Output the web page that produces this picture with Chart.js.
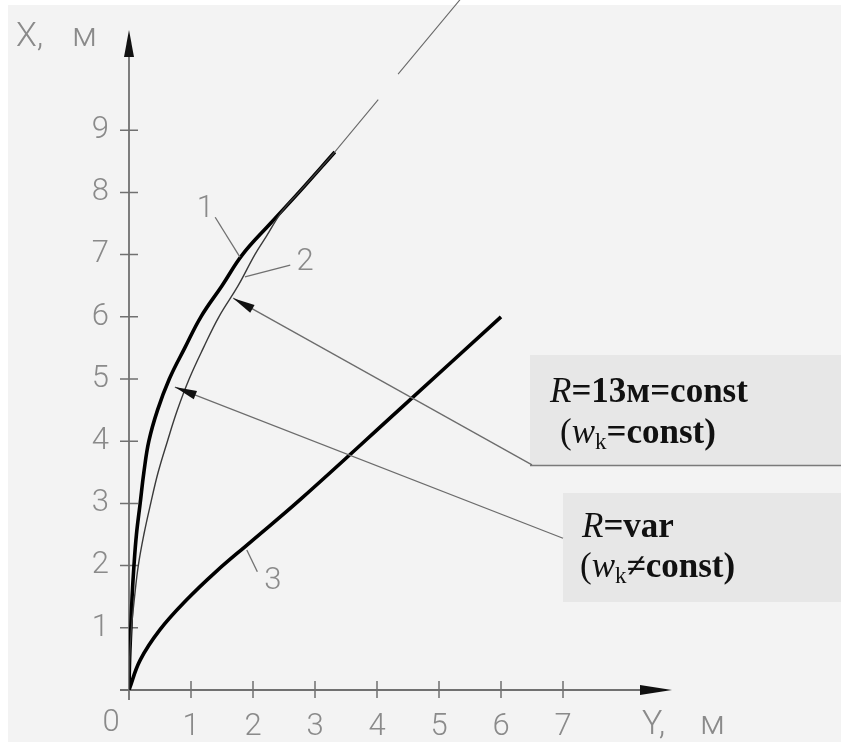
<!DOCTYPE html>
<html>
<head>
<meta charset="utf-8">
<script src="https://cdn.jsdelivr.net/npm/chart.js@4"></script>
<style>
  html, body { margin: 0; padding: 0; background: #f3f3f3; }
  #wrap { width: 841px; height: 742px; position: relative; }
</style>
</head>
<body>
<div id="wrap"><canvas id="traj"></canvas></div>
<script>
// curves as [Y, X] pairs, metres
const curve1 = [[0, 0], [0.01, 0.5], [0.03, 1], [0.05, 1.5], [0.08, 2], [0.12, 2.5], [0.18, 3], [0.24, 3.5],
  [0.32, 4], [0.46, 4.5], [0.65, 5], [0.9, 5.5], [1.16, 6], [1.5, 6.5], [1.83, 7], [2.28, 7.5], [2.74, 8], [3.32, 8.65]];
const curve2 = [[0, 0], [0.01, 0.5], [0.04, 1], [0.09, 1.5], [0.15, 2], [0.24, 2.5], [0.35, 3], [0.47, 3.5],
  [0.62, 4], [0.78, 4.5], [0.97, 5], [1.2, 5.5], [1.45, 6], [1.76, 6.5], [2.03, 7], [2.22, 7.3], [2.47, 7.7],
  [2.74, 8], [3.32, 8.65]];
// straight continuation of curve 2 (broken once)
const curve2Ext = [[3.32, 8.65], [4.02, 9.49], null, [4.34, 9.9], [5.34, 11.1]];
const curve3 = [[0, 0], [0.18, 0.48], [0.5, 0.97], [0.93, 1.45], [1.4, 1.9], [1.95, 2.37], [2.76, 3.06],
  [4.35, 4.5], [6, 6]];

const xTicks = [1, 2, 3, 4, 5, 6, 7];
const yTicks = [1, 2, 3, 4, 5, 6, 7, 8, 9];

const curveNames = ['1', '2', '3'];
const namePos = [[1.23, 7.73], [2.84, 6.88], [2.32, 1.75]];
const leaders = [[[1.39, 7.6], [1.79, 6.96]], [[2.6, 6.83], [1.87, 6.64]], [[2.07, 1.9], [1.9, 2.25]]];
// pointers from the note boxes: [from, tip]
const pointers = [[[6.5, 3.62], [1.68, 6.3]], [[7.0, 2.44], [0.74, 4.87]]];

const toPts = arr => arr.map(p => p ? { x: p[0], y: p[1] } : { x: null, y: null });

const CAD = '300 31px Roboto, "DejaVu Sans", sans-serif';
const GREY = '#8a8a8a';

function arrowHead(ctx, x0, y0, x1, y1, len, half) {
  const a = Math.atan2(y1 - y0, x1 - x0);
  ctx.beginPath();
  ctx.moveTo(x1, y1);
  ctx.lineTo(x1 - len * Math.cos(a) + half * Math.sin(a), y1 - len * Math.sin(a) - half * Math.cos(a));
  ctx.lineTo(x1 - len * Math.cos(a) - half * Math.sin(a), y1 - len * Math.sin(a) + half * Math.cos(a));
  ctx.closePath();
  ctx.fill();
}

// mixed-style text: runs of {t, f, dy}
function runs(ctx, x, y, parts) {
  ctx.textAlign = 'left';
  ctx.textBaseline = 'alphabetic';
  for (const p of parts) {
    ctx.font = p.f;
    ctx.fillText(p.t, x, y + (p.dy || 0));
    x += ctx.measureText(p.t).width;
  }
}

const drawing = {
  id: 'drawing',
  beforeDraw(chart) {
    const ctx = chart.ctx;
    ctx.save();
    ctx.fillStyle = '#f3f3f3';
    ctx.fillRect(0, 0, chart.width, chart.height);
    ctx.fillStyle = '#ffffff';
    ctx.fillRect(0, 0, chart.width, 5);
    ctx.fillRect(0, 0, 8, chart.height);

    // note boxes
    ctx.fillStyle = '#e7e7e7';
    ctx.fillRect(530, 355, 311, 110);
    ctx.fillRect(563, 493, 278, 109);
    ctx.strokeStyle = '#7a7a7a';
    ctx.lineWidth = 1.5;
    ctx.beginPath();
    ctx.moveTo(530, 465.5);
    ctx.lineTo(841, 465.5);
    ctx.stroke();

    ctx.fillStyle = '#111';
    const b = '35px "Liberation Serif", serif';
    const bb = 'bold 35px "Liberation Serif", serif';
    const bi = 'italic 35px "Liberation Serif", serif';
    const sub = '23px "Liberation Serif", serif';
    runs(ctx, 550, 402, [{ t: 'R', f: bi }, { t: '=13м=const', f: bb }]);
    runs(ctx, 560, 443, [{ t: '(', f: b }, { t: 'w', f: bi }, { t: 'k', f: sub, dy: 6 }, { t: '=const)', f: bb }]);
    runs(ctx, 582, 537, [{ t: 'R', f: bi }, { t: '=var', f: bb }]);
    runs(ctx, 580, 577, [{ t: '(', f: b }, { t: 'w', f: bi }, { t: 'k', f: sub, dy: 6 }, { t: '≠const)', f: bb }]);

    // axes
    const xs = chart.scales.x, ys = chart.scales.y;
    const ox = xs.getPixelForValue(0), oy = ys.getPixelForValue(0);
    ctx.strokeStyle = '#707070';
    ctx.lineWidth = 1.8;
    ctx.beginPath();
    ctx.moveTo(ox, oy + 10);
    ctx.lineTo(ox, 45);
    ctx.moveTo(ox - 9, oy);
    ctx.lineTo(655, oy);
    ctx.stroke();
    ctx.fillStyle = '#111';
    arrowHead(ctx, ox, 60, ox, 30, 27, 5);
    arrowHead(ctx, 630, oy, 672, oy, 32, 5);

    ctx.lineWidth = 1.5;
    ctx.beginPath();
    for (const v of xTicks) {
      const px = xs.getPixelForValue(v);
      ctx.moveTo(px, oy - 9);
      ctx.lineTo(px, oy + 8);
    }
    for (const v of yTicks) {
      const py = ys.getPixelForValue(v);
      ctx.moveTo(ox - 9, py);
      ctx.lineTo(ox + 9, py);
    }
    ctx.stroke();

    ctx.fillStyle = GREY;
    ctx.font = CAD;
    ctx.textAlign = 'center';
    ctx.textBaseline = 'alphabetic';
    for (const v of xTicks) ctx.fillText(String(v), xs.getPixelForValue(v), 735);
    ctx.fillText('0', 111, 731);
    ctx.textAlign = 'right';
    ctx.textBaseline = 'middle';
    for (const v of yTicks) ctx.fillText(String(v), 109, ys.getPixelForValue(v));

    ctx.textAlign = 'left';
    ctx.textBaseline = 'alphabetic';
    ctx.font = '300 34px Roboto, "DejaVu Sans", sans-serif';
    ctx.fillText('X,', 16, 46);
    ctx.fillText('м', 72, 46);
    ctx.fillText('Y,', 642, 734);
    ctx.fillText('м', 700, 734);
    ctx.restore();
  },
  afterDatasetsDraw(chart) {
    const ctx = chart.ctx;
    const xs = chart.scales.x, ys = chart.scales.y;
    const P = p => [xs.getPixelForValue(p[0]), ys.getPixelForValue(p[1])];
    ctx.save();

    // leaders and curve numbers
    ctx.strokeStyle = '#707070';
    ctx.lineWidth = 1.3;
    for (const l of leaders) {
      const a = P(l[0]), c = P(l[1]);
      ctx.beginPath();
      ctx.moveTo(a[0], a[1]);
      ctx.lineTo(c[0], c[1]);
      ctx.stroke();
    }
    ctx.fillStyle = GREY;
    ctx.font = CAD;
    ctx.textAlign = 'center';
    ctx.textBaseline = 'middle';
    curveNames.forEach((n, i) => {
      const p = P(namePos[i]);
      ctx.fillText(n, p[0], p[1]);
    });

    // pointers from the notes
    ctx.strokeStyle = '#6c6c6c';
    ctx.fillStyle = '#111';
    ctx.lineWidth = 1.3;
    for (const pr of pointers) {
      const a = P(pr[0]), c = P(pr[1]);
      ctx.beginPath();
      ctx.moveTo(a[0], a[1]);
      ctx.lineTo(c[0], c[1]);
      ctx.stroke();
      arrowHead(ctx, a[0], a[1], c[0], c[1], 22, 4.5);
    }
    ctx.restore();
  }
};

const line = { showLine: true, pointRadius: 0, tension: 0.4 };

new Chart(document.getElementById('traj'), {
  type: 'scatter',
  data: {
    datasets: [
      { ...line, label: '2', data: toPts(curve2), borderColor: '#3a3a3a', borderWidth: 1.4 },
      { label: '2 ext', data: toPts(curve2Ext), showLine: true, spanGaps: false, borderColor: '#6a6a6a', borderWidth: 1.1, pointRadius: 0 },
      { ...line, label: '1', data: toPts(curve1), borderColor: '#000', borderWidth: 3.6 },
      { ...line, label: '3', data: toPts(curve3), borderColor: '#000', borderWidth: 3.6 }
    ]
  },
  options: {
    responsive: true,
    maintainAspectRatio: false,
    animation: false,
    layout: { padding: { left: 129, right: 0, top: 0, bottom: 52 } },
    plugins: { legend: { display: false }, tooltip: { enabled: false } },
    scales: {
      x: { type: 'linear', display: false, min: 0, max: 712 / 62 },
      y: { type: 'linear', display: false, min: 0, max: 690 / 62.2 }
    }
  },
  plugins: [drawing]
});
</script>
</body>
</html>
